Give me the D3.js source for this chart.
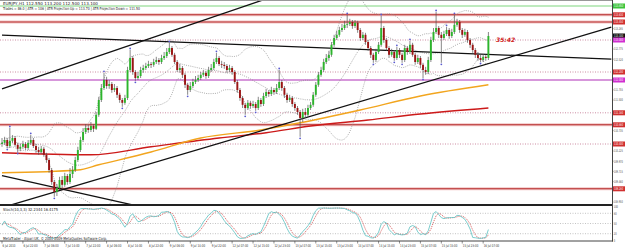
<!DOCTYPE html>
<html>
<head>
<meta charset="utf-8">
<script src="https://cdn.jsdelivr.net/npm/d3@7"></script>
<style>
body { margin: 0; background: #fff; }
svg text { font-family: "DejaVu Sans", sans-serif; }
</style>
</head>
<body>
<div id="chart"></div>
<script>
// EURJPY H1 candles (open of each bar = previous close)
const firstOpen = 110.40;
const closes = [
    110.43,110.50,110.35,110.48,110.55,110.38,110.28,110.33,110.40,110.30,
    110.43,110.50,110.35,110.25,110.20,110.28,110.13,110.00,109.75,109.45,
    109.20,109.30,109.50,109.38,109.60,109.45,109.65,109.75,110.00,110.25,
    110.50,110.70,110.80,110.75,110.85,110.78,111.13,111.50,111.80,112.00,
    111.85,111.90,111.75,111.80,111.63,111.50,111.43,111.55,112.25,112.55,
    112.20,112.05,112.10,112.25,112.30,112.35,112.40,112.38,112.45,112.50,
    112.45,112.55,112.60,112.70,112.80,112.63,112.45,112.25,112.30,112.13,
    111.88,111.75,111.85,111.95,112.00,112.05,112.13,112.18,112.10,112.25,
    112.30,112.45,112.55,112.40,112.38,112.35,112.25,112.30,112.20,111.95,
    111.75,111.55,111.38,111.30,111.43,111.35,111.40,111.30,111.50,111.40,
    111.60,111.70,111.65,111.75,111.70,111.80,111.95,111.80,111.63,111.50,
    111.55,111.40,111.30,111.20,111.05,111.20,111.13,111.30,111.38,111.63,
    111.88,112.13,112.25,112.45,112.55,112.63,112.88,113.05,113.13,113.25,
    113.30,113.38,113.40,113.45,113.35,113.43,113.25,113.05,113.13,112.95,
    112.80,112.63,112.50,112.70,112.88,113.30,113.00,112.80,112.63,112.70,
    112.55,112.75,112.63,112.50,112.80,112.70,112.88,112.63,112.45,112.55,
    112.38,112.25,112.20,112.50,113.00,113.20,113.30,113.13,113.05,113.15,
    113.25,113.10,113.20,113.38,113.45,113.25,113.13,113.20,113.00,112.88,
    112.75,112.63,112.55,112.50,112.58,112.55,113.10
];
const highs = [
    110.55,110.58,110.55,110.80,110.62,110.60,110.43,110.40,110.48,110.45,
    110.50,110.63,110.55,110.40,110.33,110.35,110.33,110.18,110.05,109.80,
    109.50,109.40,109.58,109.60,109.68,109.65,109.80,109.85,110.08,110.33,
    110.58,110.80,110.90,110.88,110.95,110.90,111.20,111.58,111.90,112.18,
    112.08,112.00,111.95,111.90,111.85,111.68,111.55,111.63,112.33,112.75,
    112.60,112.25,112.20,112.33,112.38,112.43,112.48,112.45,112.53,112.58,
    112.55,112.63,112.70,112.80,112.93,112.85,112.68,112.50,112.40,112.35,
    112.18,111.93,111.95,112.03,112.10,112.13,112.20,112.25,112.23,112.33,
    112.40,112.53,112.68,112.60,112.48,112.45,112.40,112.38,112.35,112.25,
    112.00,111.80,111.60,111.43,111.50,111.48,111.48,111.45,111.58,111.55,
    111.68,111.78,111.75,111.83,111.80,111.90,112.25,112.00,111.85,111.68,
    111.63,111.60,111.45,111.35,111.25,111.28,111.30,111.38,111.45,111.70,
    111.95,112.20,112.33,112.53,112.65,112.73,112.95,113.13,113.23,113.33,
    113.40,113.48,113.63,113.53,113.50,113.50,113.48,113.30,113.20,113.18,
    113.00,112.85,112.68,112.78,112.95,113.60,113.35,113.05,112.85,112.78,
    112.75,112.83,112.80,112.68,112.88,112.85,112.98,112.93,112.68,112.63,
    112.60,112.43,112.33,112.58,113.08,113.30,113.70,113.35,113.20,113.23,
    113.33,113.30,113.28,113.63,113.53,113.50,113.30,113.28,113.25,113.05,
    112.93,112.80,112.70,112.63,112.65,112.63,113.20
];
const lows = [
    110.33,110.38,110.30,110.30,110.42,110.33,110.20,110.22,110.28,110.25,
    110.25,110.38,110.30,110.18,110.13,110.15,110.08,109.93,109.68,109.38,
    109.08,109.10,109.25,109.30,109.33,109.38,109.40,109.55,109.70,109.95,
    110.20,110.45,110.65,110.68,110.70,110.70,110.75,111.08,111.45,111.75,
    111.78,111.78,111.68,111.70,111.55,111.43,111.33,111.38,111.50,112.20,
    112.13,111.98,112.00,112.05,112.18,112.25,112.30,112.30,112.33,112.40,
    112.38,112.40,112.50,112.55,112.65,112.58,112.40,112.20,112.18,112.05,
    111.80,111.63,111.70,111.80,111.90,111.95,112.00,112.08,112.03,112.05,
    112.20,112.25,112.40,112.35,112.30,112.28,112.18,112.20,112.13,111.90,
    111.68,111.48,111.30,111.13,111.25,111.28,111.30,111.23,111.25,111.33,
    111.35,111.55,111.58,111.60,111.63,111.65,111.75,111.73,111.55,111.43,
    111.45,111.33,111.23,111.13,110.58,110.95,111.05,111.08,111.25,111.33,
    111.58,111.83,112.08,112.20,112.40,112.48,112.58,112.83,113.00,113.08,
    113.20,113.25,113.30,113.35,113.28,113.30,113.18,112.98,113.00,112.88,
    112.73,112.55,112.43,112.45,112.65,112.83,112.93,112.73,112.55,112.58,
    112.48,112.50,112.55,112.43,112.45,112.63,112.65,112.58,112.38,112.40,
    112.30,112.05,112.13,112.15,112.45,112.95,113.15,113.05,112.43,113.00,
    113.10,113.03,113.05,113.15,113.33,113.18,113.05,113.08,112.93,112.80,
    112.68,112.55,112.48,112.45,112.45,112.48,112.50
];

// moving averages, sampled as [bar, price]
const maOrange = [[0,109.68],[29,109.75],[37,109.88],[57,110.20],[76,110.55],[99,110.75],[114,110.93],[137,111.25],[160,111.60],[186,111.88]];
const maRed = [[0,110.18],[34,110.13],[57,110.33],[83,110.55],[101,110.68],[118,110.85],[140,111.00],[160,111.15],[186,111.30]];

// trend lines, [bar, price] end points
const trendLines = [
    [[0,113.12],[233,112.52]],
    [[0,111.78],[120,114.45]],
    [[0,108.81],[233,113.32]],
    [[0,109.61],[60,108.73]]
];

// horizontal levels
const greenLevel = 113.85;
const magentaLevel = 112.00;
const redLevels = [113.63, 113.45, 110.88, 109.28];
const dottedLevels = [113.00, 112.20, 111.18, 110.40];

const priceTicks = [113.540,113.285,113.030,112.775,112.520,112.265,112.010,111.755,111.500,111.245,
    110.990,110.735,110.480,110.225,109.970,109.715,109.460,109.205,108.950];
const stochTicks = [100, 80, 50, 20, 0];
const timeLabels = ["6 Jul 2010","6 Jul 22:00","7 Jul 06:00","7 Jul 14:00","7 Jul 22:00","8 Jul 06:00","8 Jul 14:00","8 Jul 22:00",
    "9 Jul 06:00","9 Jul 14:00","9 Jul 22:00","12 Jul 07:00","12 Jul 15:00","12 Jul 23:00","13 Jul 07:00","13 Jul 15:00",
    "13 Jul 23:00","14 Jul 07:00","14 Jul 15:00","14 Jul 23:00","15 Jul 07:00","15 Jul 15:00","15 Jul 23:00","16 Jul 07:00"];

const width = 625, height = 248;
const plotRight = 612, mainBottom = 205, stochTop = 206.5, stochBottom = 240.5;

const svg = d3.select("#chart").append("svg")
    .attr("width", width)
    .attr("height", height)
    .style("display", "block");

const x = d3.scaleLinear().domain([0, closes.length - 1]).range([2, 488.4]);
const y = d3.scaleLinear().domain([108.875, 114.0]).range([mainBottom, 0]);
const ys = d3.scaleLinear().domain([0, 100]).range([stochBottom, stochTop]);

svg.append("clipPath").attr("id", "mainClip")
    .append("rect").attr("x", 0).attr("y", 0).attr("width", plotRight).attr("height", mainBottom);
svg.append("clipPath").attr("id", "stochClip")
    .append("rect").attr("x", 0).attr("y", mainBottom + 1).attr("width", plotRight).attr("height", stochBottom - mainBottom);

const main = svg.append("g").attr("clip-path", "url(#mainClip)");

// --- horizontal levels ---
main.append("line")
    .attr("x1", 0).attr("x2", plotRight)
    .attr("y1", y(greenLevel)).attr("y2", y(greenLevel))
    .attr("stroke", "#7fd67f").attr("stroke-width", 1.2);

main.selectAll(".redlvl-bg").data(redLevels).enter().append("line")
    .attr("x1", 0).attr("x2", plotRight)
    .attr("y1", d => y(d)).attr("y2", d => y(d))
    .attr("stroke", "#f2c4c4").attr("stroke-width", 3);
main.selectAll(".redlvl").data(redLevels).enter().append("line")
    .attr("x1", 0).attr("x2", plotRight)
    .attr("y1", d => y(d)).attr("y2", d => y(d))
    .attr("stroke", "#b52a2a").attr("stroke-width", 1.1);

main.selectAll(".dotlvl").data(dottedLevels).enter().append("line")
    .attr("x1", 0).attr("x2", plotRight)
    .attr("y1", d => y(d)).attr("y2", d => y(d))
    .attr("stroke", "#c0708c").attr("stroke-width", 0.8)
    .attr("stroke-dasharray", "1,1.5");

main.append("line")
    .attr("x1", 0).attr("x2", plotRight)
    .attr("y1", y(magentaLevel)).attr("y2", y(magentaLevel))
    .attr("stroke", "#b030b8").attr("stroke-width", 1.2);

// --- bollinger bands (20, 2) from closes ---
const bb = closes.map((c, i) => {
    const win = closes.slice(Math.max(0, i - 19), i + 1);
    const m = d3.mean(win);
    const sd = Math.sqrt(d3.mean(win, v => (v - m) * (v - m)));
    return { i, mid: m, up: m + 2 * sd, dn: m - 2 * sd };
});
["up", "mid", "dn"].forEach(k => {
    main.append("path")
        .datum(bb)
        .attr("fill", "none")
        .attr("stroke", "#8a8a8a")
        .attr("stroke-width", 0.7)
        .attr("stroke-dasharray", "1,1.2")
        .attr("d", d3.line().x(d => x(d.i)).y(d => y(d[k])));
});

// --- moving averages ---
const maLine = d3.line().x(d => x(d[0])).y(d => y(d[1])).curve(d3.curveMonotoneX);
main.append("path").datum(maRed)
    .attr("fill", "none").attr("stroke", "#cc1a1a").attr("stroke-width", 1.4).attr("d", maLine);
main.append("path").datum(maOrange)
    .attr("fill", "none").attr("stroke", "#f2a51e").attr("stroke-width", 1.4).attr("d", maLine);

// --- trend lines ---
main.selectAll(".trend").data(trendLines).enter().append("line")
    .attr("x1", d => x(d[0][0])).attr("y1", d => y(d[0][1]))
    .attr("x2", d => x(d[1][0])).attr("y2", d => y(d[1][1]))
    .attr("stroke", "#111").attr("stroke-width", 1.3);

// --- candles ---
const bars = closes.map((c, i) => ({
    i, o: i === 0 ? firstOpen : closes[i - 1], c, h: highs[i], l: lows[i]
}));

main.selectAll(".wick").data(bars).enter().append("line")
    .attr("x1", d => x(d.i)).attr("x2", d => x(d.i))
    .attr("y1", d => y(d.h)).attr("y2", d => y(d.l))
    .attr("stroke", "#555").attr("stroke-width", 0.7);

main.selectAll(".body").data(bars).enter().append("rect")
    .attr("x", d => x(d.i) - 0.95)
    .attr("width", 1.9)
    .attr("y", d => y(Math.max(d.o, d.c)))
    .attr("height", d => Math.max(0.8, Math.abs(y(d.o) - y(d.c))))
    .attr("fill", d => d.c >= d.o ? "#2cb52c" : "#9b1414");

// fractals
const fractUp = bars.filter(d => d.i > 1 && d.i < bars.length - 2 &&
    d.h > highs[d.i - 1] && d.h > highs[d.i - 2] && d.h >= highs[d.i + 1] && d.h >= highs[d.i + 2]);
const fractDn = bars.filter(d => d.i > 1 && d.i < bars.length - 2 &&
    d.l < lows[d.i - 1] && d.l < lows[d.i - 2] && d.l <= lows[d.i + 1] && d.l <= lows[d.i + 2]);
main.selectAll(".fu").data(fractUp).enter().append("circle")
    .attr("cx", d => x(d.i)).attr("cy", d => y(d.h) - 1.5).attr("r", 0.9).attr("fill", "#5a5ad0");
main.selectAll(".fd").data(fractDn).enter().append("circle")
    .attr("cx", d => x(d.i)).attr("cy", d => y(d.l) + 1.5).attr("r", 0.9).attr("fill", "#5a5ad0");

// countdown text
svg.append("text")
    .attr("x", 496).attr("y", y(dottedLevels[0]) + 2)
    .attr("font-size", 6).attr("font-weight", "bold").attr("font-style", "italic")
    .attr("fill", "#d02020").text("35:42");

// --- stochastic from the candles ---
const kP = 10, slowing = 3, dP = 3;
const num = [], den = [];
bars.forEach(d => {
    const from = Math.max(0, d.i - kP + 1);
    const lo = d3.min(lows.slice(from, d.i + 1));
    const hi = d3.max(highs.slice(from, d.i + 1));
    num.push(d.c - lo);
    den.push(hi - lo);
});
const stochMain = bars.map(d => {
    const from = Math.max(0, d.i - slowing + 1);
    const n = d3.sum(num.slice(from, d.i + 1)), dd = d3.sum(den.slice(from, d.i + 1));
    return dd === 0 ? 100 : n / dd * 100;
});
const stochSig = stochMain.map((v, i) => d3.mean(stochMain.slice(Math.max(0, i - dP + 1), i + 1)));

const st = svg.append("g").attr("clip-path", "url(#stochClip)");
st.selectAll(".slvl").data([80, 50, 20]).enter().append("line")
    .attr("x1", 0).attr("x2", plotRight)
    .attr("y1", d => ys(d)).attr("y2", d => ys(d))
    .attr("stroke", "#aaa").attr("stroke-width", 0.7).attr("stroke-dasharray", "1,1.5");
st.append("path").datum(stochSig)
    .attr("fill", "none").attr("stroke", "#d04848").attr("stroke-width", 0.8).attr("stroke-dasharray", "1.2,1")
    .attr("d", d3.line().x((d, i) => x(i)).y(d => ys(d)));
st.append("path").datum(stochMain)
    .attr("fill", "none").attr("stroke", "#6cc6c6").attr("stroke-width", 0.9)
    .attr("d", d3.line().x((d, i) => x(i)).y(d => ys(d)));

// --- frame ---
svg.append("line").attr("x1", 0).attr("x2", plotRight).attr("y1", 0.5).attr("y2", 0.5)
    .attr("stroke", "#999").attr("stroke-width", 1);
svg.append("line").attr("x1", 0).attr("x2", plotRight + 1).attr("y1", mainBottom).attr("y2", mainBottom)
    .attr("stroke", "#222").attr("stroke-width", 1.8);
svg.append("line").attr("x1", 0).attr("x2", plotRight + 1).attr("y1", stochBottom + 0.5).attr("y2", stochBottom + 0.5)
    .attr("stroke", "#444").attr("stroke-width", 1);
svg.append("line").attr("x1", plotRight + 0.5).attr("x2", plotRight + 0.5).attr("y1", 0).attr("y2", stochBottom + 1)
    .attr("stroke", "#444").attr("stroke-width", 1);

// --- right price axis ---
const tags = [
    { v: greenLevel, c: "#3cc43c" },
    ...redLevels.map(v => ({ v, c: "#d03030" })),
    ...dottedLevels.slice(1).map(v => ({ v, c: "#d03030" })),
    { v: closes[closes.length - 1], c: "#111" },
    { v: dottedLevels[0], c: "#d030d0" },
    { v: magentaLevel, c: "#d030d0" }
];
// the terminal hides scale labels that would sit under a coloured tag
const shownTicks = priceTicks.filter(t => tags.every(g => Math.abs(y(g.v) - y(t)) > 4.5));

// scale labels are squeezed horizontally so that they fit the narrow column
const squeeze = 0.58;
const axisG = svg.append("g");
axisG.selectAll(".pt").data(shownTicks).enter().append("text")
    .attr("transform", d => `translate(${plotRight + 1.8},${y(d) + 1.4}) scale(${squeeze},1)`)
    .attr("font-size", 3.8).attr("fill", "#444")
    .text(d => d.toFixed(3));
axisG.selectAll(".ptk").data(shownTicks).enter().append("line")
    .attr("x1", plotRight).attr("x2", plotRight + 1.5)
    .attr("y1", d => y(d)).attr("y2", d => y(d)).attr("stroke", "#444").attr("stroke-width", 0.6);

const tagG = axisG.selectAll(".tag").data(tags).enter().append("g")
    .attr("transform", d => `translate(${plotRight + 1},${y(d.v) - 2.5})`);
tagG.append("rect").attr("width", 12).attr("height", 5).attr("fill", d => d.c);
tagG.append("text")
    .attr("transform", `translate(1,3.6) scale(${squeeze},1)`)
    .attr("font-size", 3.8).attr("fill", "#fff")
    .text(d => d.v.toFixed(3));

axisG.selectAll(".st").data(stochTicks).enter().append("text")
    .attr("transform", d => `translate(${plotRight + 1.8},${ys(d) + 1.4}) scale(${squeeze},1)`)
    .attr("font-size", 3.8).attr("fill", "#444")
    .text(d => d);

// --- time axis ---
const tG = svg.append("g");
tG.selectAll(".tt").data(timeLabels).enter().append("line")
    .attr("x1", (d, k) => x(k * 8)).attr("x2", (d, k) => x(k * 8))
    .attr("y1", stochBottom + 0.5).attr("y2", stochBottom + 3)
    .attr("stroke", "#444").attr("stroke-width", 0.6);
tG.selectAll(".tl").data(timeLabels).enter().append("text")
    .attr("x", (d, k) => x(k * 8) + 0.5).attr("y", 246.5)
    .attr("font-size", 3.8).attr("fill", "#333")
    .attr("textLength", d => d.length * 1.3).attr("lengthAdjust", "spacingAndGlyphs")
    .text(d => d);

// --- texts ---
const last = bars[bars.length - 1];
svg.append("text").attr("x", 3).attr("y", 4.5).attr("font-size", 4).attr("fill", "#222")
    .attr("textLength", 95).attr("lengthAdjust", "spacingAndGlyphs")
    .text(`EURJPY,H1  ${last.o.toFixed(3)} ${last.h.toFixed(3)} ${last.l.toFixed(3)} ${last.c.toFixed(3)}`);
svg.append("text").attr("x", 3).attr("y", 10).attr("font-size", 4).attr("fill", "#222")
    .attr("textLength", 137).attr("lengthAdjust", "spacingAndGlyphs")
    .text("Trades = 86.0  |  ATR = 106  |  ATR Projection Up = 113.70  |  ATR Projection Down = 111.50");
svg.append("text").attr("x", 3).attr("y", 210.5).attr("font-size", 4).attr("fill", "#222")
    .attr("textLength", 55).attr("lengthAdjust", "spacingAndGlyphs")
    .text(`Stoch(10,3,3) ${stochMain[stochMain.length - 1].toFixed(4)} ${stochSig[stochSig.length - 1].toFixed(4)}`);
svg.append("text").attr("x", 3).attr("y", 239.5).attr("font-size", 4).attr("fill", "#222")
    .attr("textLength", 104).attr("lengthAdjust", "spacingAndGlyphs")
    .text("MetaTrader - Alpari UK, © 2001-2009 MetaQuotes Software Corp.");
</script>
</body>
</html>
